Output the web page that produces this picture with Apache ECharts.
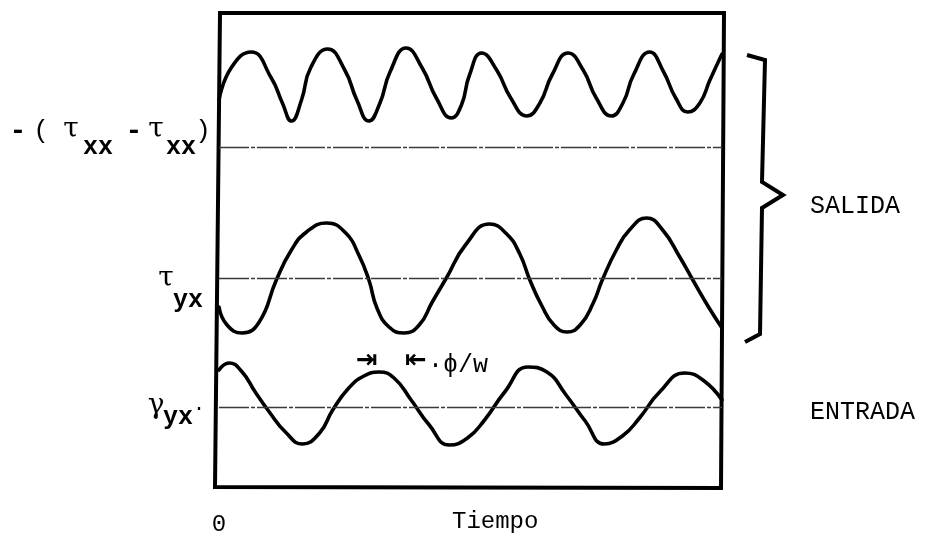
<!DOCTYPE html>
<html>
<head>
<meta charset="utf-8">
<script src="https://cdn.jsdelivr.net/npm/echarts@6/dist/echarts.min.js"></script>
<style>
  html, body { margin: 0; padding: 0; background: #fff; }
  #chart { width: 925px; height: 539px; }
</style>
</head>
<body>
<div id="chart"></div>
<script>
// Oscillatory shear: output stresses and input strain against time.

// Normal stress difference -(τxx - τxx)
const normalTime = [0, 1.2, 3.2, 5.2, 6.3, 7.2, 8.2, 9.1, 10.8, 12.5, 13.7, 14.9, 16.0, 17.0, 18.6,
  20.2, 21.6, 23.1, 24.1, 24.9, 26.1, 27.6, 29.0, 30.6, 31.9, 33.1, 34.7, 36.2, 37.5, 39.0,
  40.2, 41.2, 42.8, 44.2, 45.4, 46.6, 47.8, 48.8, 50.0];
const normalStress = [4.7, 7.9, 9.5, 6.9, 4.4, 2.6, 4.7, 7.9, 9.8, 7.7, 4.7, 2.6, 4.4, 7.5, 9.9,
  7.9, 4.9, 2.9, 4.2, 7.2, 9.4, 7.7, 4.9, 3.1, 4.4, 7.2, 9.4, 7.7, 4.9, 3.1,
  4.5, 7.2, 9.5, 7.5, 4.9, 3.5, 4.4, 6.7, 9.3];

// Shear stress τyx
const shearTime = [0, 0.8, 2.3, 4.0, 5.7, 7.2, 8.7, 10.7, 12.6, 13.9, 14.9, 15.7, 16.9, 18.4, 19.9,
  21.2, 22.6, 24.5, 26.9, 28.6, 29.9, 30.9, 32.1, 33.3, 34.6, 35.9, 37.2, 38.1, 39.5, 40.8,
  42.5, 44.1, 45.8, 47.1, 48.6, 50.0];
const shearStress = [-2.9, -4.7, -5.5, -4.4, -0.2, 2.8, 4.6, 5.5, 4.5, 2.3, -0.2, -3.0, -4.9, -5.5, -4.7,
  -2.4, 0.0, 3.3, 5.4, 4.4, 2.4, -0.2, -2.8, -4.7, -5.4, -4.7, -2.5, -0.2, 2.8, 4.8,
  6.0, 4.8, 2.1, -0.2, -2.8, -5.0];

// Imposed shear strain γyx
const strainTime = [0, 1.0, 2.3, 3.6, 5.0, 6.6, 8.3, 10.0, 11.3, 12.9, 14.4, 15.9, 17.4, 19.1, 20.9,
  22.9, 24.7, 26.4, 28.4, 30.7, 32.6, 34.5, 36.4, 38.3, 40.1, 41.8, 43.8, 46.3, 48.1, 50.0];
const shearStrain = [3.7, 4.4, 3.5, 1.5, -0.5, -2.5, -3.7, -2.6, -0.3, 1.9, 3.1, 3.5, 2.9, 0.7, -1.8,
  -3.8, -3.1, -1.3, 1.5, 4.0, 3.5, 1.2, -1.4, -3.7, -2.9, -1.1, 1.5, 3.4, 2.7, 0.7];

// Time axis tick labels and titles
const timeTicks = ['0'];
const timeTitle = 'Tiempo';
const outputTitle = 'SALIDA';
const inputTitle = 'ENTRADA';

const zip = (xs, ys) => xs.map((x, i) => [x, ys[i]]);

const MONO = '"Liberation Mono", "DejaVu Sans Mono", monospace';
const GREEK = '"DejaVu Serif", serif';
const INK = '#000';
const PLOT = { left: 219, right: 203 };

const chart = echarts.init(document.getElementById('chart'), null, { renderer: 'canvas' });

const hiddenX = (i) => ({ type: 'value', gridIndex: i, min: 0, max: 50, show: false });
const hiddenY = (i, min, max) => ({ type: 'value', gridIndex: i, min, max, show: false });

const baseline = {
  silent: true,
  symbol: 'none',
  label: { show: false },
  lineStyle: { color: '#3a3a3a', width: 1.3, type: [30, 2, 4, 2] },
  data: [{ yAxis: 0 }]
};

const wave = (i, data) => ({
  type: 'line',
  xAxisIndex: i,
  yAxisIndex: i,
  data,
  smooth: 0.5,
  symbol: 'none',
  lineStyle: { color: '#000', width: 3.6, cap: 'round', join: 'round' },
  markLine: baseline,
  z: 3
});

const txt = (text, x, y, font, align) => ({
  type: 'text', x, y, z: 10,
  style: { text, font, fill: INK, textAlign: align || 'center', textVerticalAlign: 'middle' }
});

const option = {
  backgroundColor: '#fff',
  animation: false,
  grid: [
    { left: PLOT.left, right: PLOT.right, top: 27, height: 160 },   // -(τxx - τxx)
    { left: PLOT.left, right: PLOT.right, top: 198, height: 160 },  // τyx
    { left: PLOT.left, right: PLOT.right, top: 347, height: 120 }   // γyx
  ],
  xAxis: [
    hiddenX(0), hiddenX(1),
    {
      type: 'value', gridIndex: 2, min: 0, max: 50, interval: 50,
      axisLine: { show: false }, axisTick: { show: false }, splitLine: { show: false },
      axisLabel: {
        margin: 46, color: INK, fontFamily: MONO, fontSize: 24,
        formatter: (v) => (v === 0 ? timeTicks[0] : '')
      }
    }
  ],
  yAxis: [
    hiddenY(0, -4, 12),
    hiddenY(1, -8, 8),
    hiddenY(2, -6, 6)
  ],
  series: [
    wave(0, zip(normalTime, normalStress)),
    wave(1, zip(shearTime, shearStress)),
    wave(2, zip(strainTime, shearStrain))
  ],
  graphic: [
    // plot frame
    {
      type: 'polygon', z: 5,
      shape: { points: [[220, 13], [724, 13], [721, 488], [215, 487]] },
      style: { stroke: '#000', lineWidth: 4, fill: null, lineJoin: 'miter' }
    },
    txt(timeTitle, 452, 522, '24px ' + MONO, 'left'),

    // -(τxx - τxx)
    txt('-', 18, 132, 'bold 28px ' + MONO),
    txt('(', 41, 131, '26px ' + MONO),
    txt('τ', 71, 130, '28px ' + GREEK),
    txt('xx', 98, 148, 'bold 25px ' + MONO),
    txt('-', 134, 132, 'bold 28px ' + MONO),
    txt('τ', 156, 130, '28px ' + GREEK),
    txt('xx', 181, 148, 'bold 25px ' + MONO),
    txt(')', 203, 131, '26px ' + MONO),

    // τyx
    txt('τ', 166, 279, '28px ' + GREEK),
    txt('yx', 188, 301, 'bold 25px ' + MONO),

    // γyx
    txt('γ', 156, 406, '28px ' + GREEK),
    txt('yx', 178, 418, 'bold 25px ' + MONO),
    txt('·', 199, 409, '20px ' + MONO),

    // phase lag marker
    txt('⇥', 367, 361, 'bold 26px "DejaVu Sans", sans-serif'),
    txt('⇤', 416, 361, 'bold 26px "DejaVu Sans", sans-serif'),
    txt('·ϕ/w', 428, 365, '25px ' + MONO, 'left'),

    // brace grouping the two output signals
    {
      type: 'polyline',
      shape: { points: [[747, 55], [765, 60], [762, 182], [783, 195], [762, 208], [760, 334], [745, 342]] },
      style: { stroke: '#000', lineWidth: 4, fill: null, lineJoin: 'miter' }
    },
    txt(outputTitle, 810, 206, '25px ' + MONO, 'left'),
    txt(inputTitle, 810, 412, '25px ' + MONO, 'left')
  ]
};

chart.setOption(option);
</script>
</body>
</html>
